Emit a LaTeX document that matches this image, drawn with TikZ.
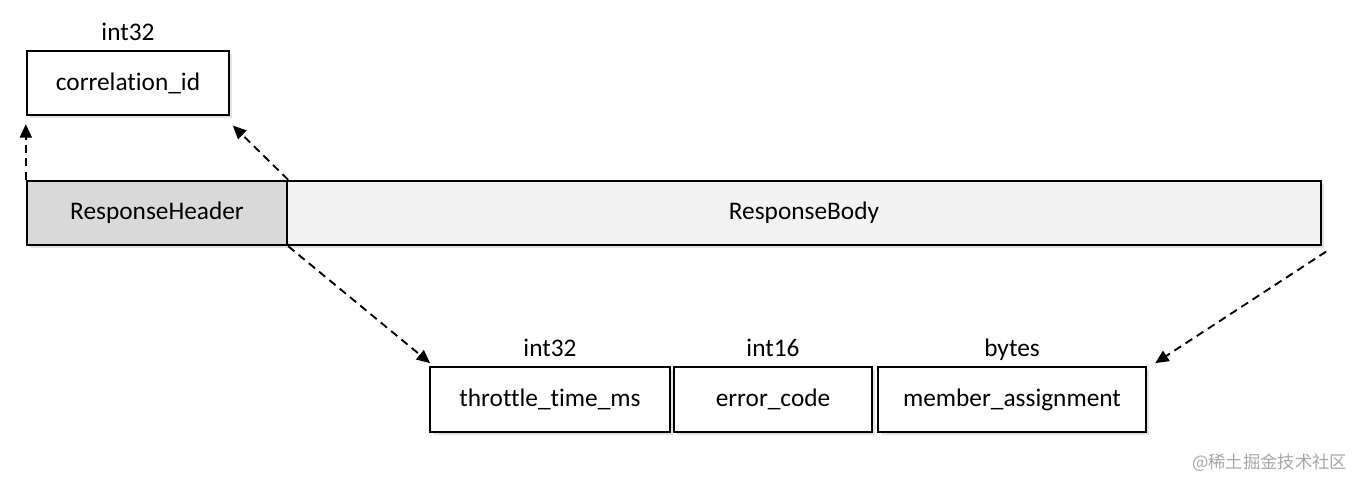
\documentclass[tikz,border=0pt]{standalone}
\usepackage{fontspec}
\setmainfont{Carlito}[Ligatures=NoCommon]
\newfontfamily\cjk{Noto Sans CJK SC}
\usetikzlibrary{positioning,arrows.meta,shadows}

\tikzset{
  field/.style={draw, line width=1.8pt, fill=white, minimum height=48pt,
    font=\fontsize{19}{22}\selectfont,
    drop shadow={shadow xshift=2.5pt, shadow yshift=-2.5pt, opacity=0.22}},
  fieldtype/.style={font=\fontsize{19}{22}\selectfont, inner sep=1pt,
    text height=13pt, text depth=4pt},
  link/.style={dashed, dash pattern=on 6pt off 4pt, line width=1.4pt,
    -{Triangle[length=10pt,width=9pt]}}
}

\begin{document}
\begin{tikzpicture}[x=0.75pt, y=-0.75pt]
    \useasboundingbox (0,0) rectangle (1366,476);

    \node (corr) [field, minimum width=151.5pt] at (128,83) {correlation\_id};
    \node (header) [field, fill=black!15, minimum width=195pt] at (157,213) {ResponseHeader};
    \node (body) [field, fill=black!5, minimum width=775.5pt] at (804,213) {ResponseBody};

    \node (throttle) [field, minimum width=180pt, minimum height=48.75pt] at (550,399.5) {throttle\_time\_ms};
    \node (error) [field, minimum width=148.5pt, minimum height=48.75pt] at (773,399.5) {error\_code};
    \node (member) [field, minimum width=201pt, minimum height=48.75pt] at (1012,399.5) {member\_assignment};

    \node (corrtype) [fieldtype, above=2pt of corr] {int32};
    \node (throttletype) [fieldtype, above=2pt of throttle] {int32};
    \node (errortype) [fieldtype, above=2pt of error] {int16};
    \node (membertype) [fieldtype, above=2pt of member] {bytes};

    \node (mark) [font=\cjk\fontsize{13}{15}\selectfont, text=black!35, anchor=east] at (1352,463) {@稀土掘金技术社区};

    \draw[link]
    (header.north west) -- ([yshift=-6pt]corr.south west)
    ;
    \draw[link]
    (header.north east) -- ([xshift=2pt,yshift=-7pt]corr.south east)
    ;
    \draw[link]
    (header.south east) -- ([xshift=1pt,yshift=2pt]throttle.north west)
    ;
    \draw[link]
    ([xshift=3pt,yshift=-4pt]body.south east) -- ([xshift=6pt,yshift=2pt]member.north east)
    ;
\end{tikzpicture}
\end{document}
